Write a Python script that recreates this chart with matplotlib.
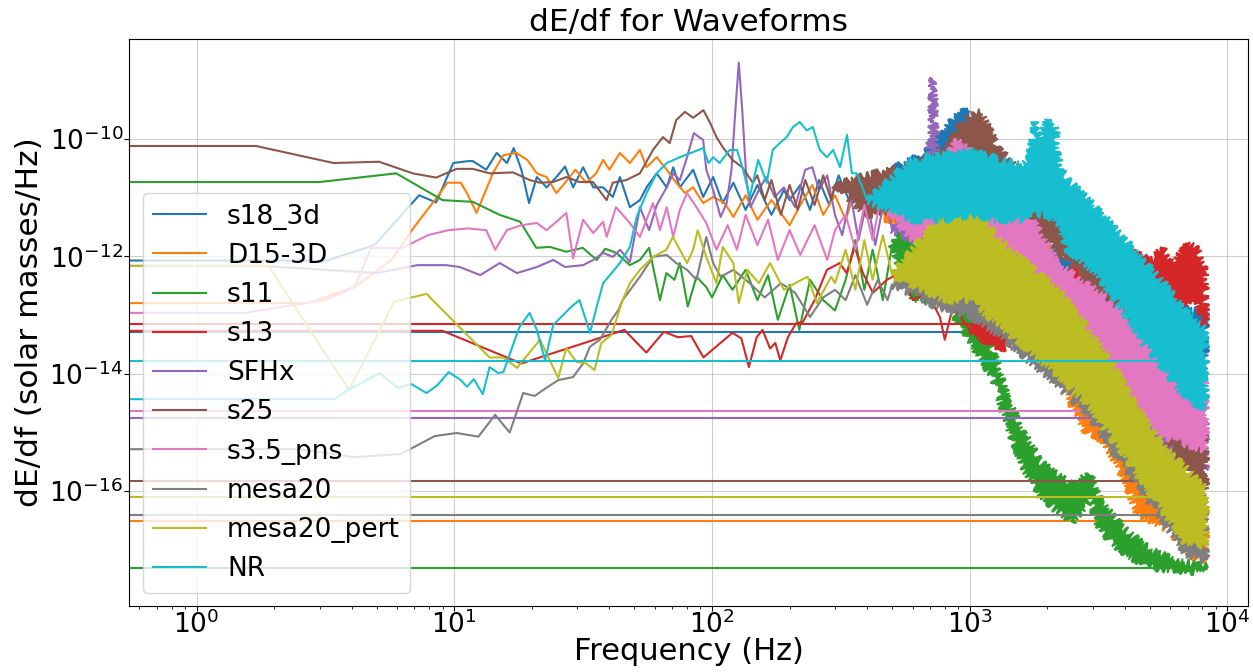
import matplotlib
matplotlib.use("Agg")
import matplotlib.pyplot as plt
from matplotlib.ticker import NullLocator

# sampling: last positive FFT bin, after it the spectrum wraps to negative frequencies
nyquist = 8192

# ---- s18_3d ----
s18_f = [0, 1.6, 3.2, 4.9, 7.3, 8.5, 9.9, 11.3, 11.8, 13.3, 14.6, 16.0, 17.0, 18.2, 19.5, 20.9, 22.8, 24.9, 26.9, 28.9,
         31.6, 34.6, 37.8, 41.2, 43.9, 48.0, 52.5, 55.7, 61.0, 66.7, 70.7, 75.0, 84.5, 92.4, 101, 110, 121, 135, 150, 170,
         190, 200, 220, 240, 260, 285, 310, 340, 370, 400]
s18_v = [8.5e-13, 8.5e-13, 8.5e-13, 1.56e-12, 1.1e-11, 8.3e-12, 3.9e-11, 4.2e-11, 4.2e-11, 3.0e-11,
         5.8e-11, 3.9e-11, 7.0e-11, 3.0e-11, 8.1e-12, 2.25e-11, 1.5e-11, 2.25e-11, 3.4e-11, 1.5e-11,
         3.3e-11, 1.5e-11, 1.5e-11, 1.03e-11, 2.25e-11, 6.9e-12, 9.1e-12, 1.5e-11, 2.6e-11, 1.5e-11,
         3.3e-11, 1.5e-11, 3.0e-11, 1.03e-11, 2.25e-11, 8.1e-12, 1.8e-11, 6.2e-12, 1.65e-11, 5.1e-12,
         1.35e-11, 9.1e-12, 1.65e-11, 6.2e-12, 2.0e-11, 7.5e-12, 2.4e-11, 9.1e-12, 2.0e-11, 1.1e-11]
s18_bf = [400, 500, 700, 850, 950, 1100, 1300, 1700, 2200, 2700, 3300, 4000, 5000, 6000, 7200, 8192]
s18_hi = [1.1e-11, 3.0e-11, 6.5e-11, 2.1e-10, 3.1e-10, 1.4e-10, 4.4e-11, 9.1e-12, 1.06e-12, 8.0e-13, 5.9e-13,
          3.3e-13, 1.8e-13, 1.5e-13, 1.2e-13, 1.2e-13]
s18_lo = [1.1e-11, 7.5e-12, 1.35e-11, 2.4e-11, 3.0e-11, 9.1e-12, 2.8e-12, 5.9e-13, 2.2e-13, 1.8e-13, 8.3e-14,
          4.6e-14, 2.5e-14, 2.1e-14, 1.7e-14, 1.7e-14]
s18_end = 5.2e-14

# ---- D15-3D ----
d15_f = [0, 2.7, 4.1, 5.7, 7.0, 8.4, 9.4, 10.6, 11.3, 12.2, 14.1, 15.5, 17.4, 19.2, 20.9, 22.8, 24.9, 26.9, 29.5, 32.5,
         35.5, 37.8, 40.0, 43.9, 48.0, 52.5, 55.7, 61.0, 66.7, 72.6, 78.5, 84.5, 92.4, 101, 112, 121, 135, 150, 170, 200,
         220, 245, 270, 300, 330, 360, 400]
d15_v = [1.6e-13, 1.6e-13, 3.0e-13, 8.7e-13, 3.2e-12, 9.1e-12, 1.8e-11, 1.8e-11, 1.1e-11, 5.5e-12,
         2.6e-11, 5.3e-11, 5.8e-11, 4.4e-11, 2.6e-11, 2.25e-11, 1.2e-11, 1.8e-11, 3.0e-11, 1.8e-11,
         2.6e-11, 4.4e-11, 3.0e-11, 5.8e-11, 3.9e-11, 6.5e-11, 3.3e-11, 4.9e-11, 3.0e-11, 1.8e-11,
         1.2e-11, 1.5e-11, 8.1e-12, 1.03e-11, 8.1e-12, 4.7e-12, 1.1e-11, 4.2e-12, 9.1e-12, 3.4e-12,
         7.5e-12, 1.65e-11, 5.1e-12, 1.1e-11, 4.2e-12, 1.35e-11, 6.2e-12]
d15_bf = [400, 600, 1000, 1150, 1300, 1700, 2100, 2500, 2800, 3300, 4000, 4500, 5000, 6000, 7000, 8192]
d15_hi = [6.2e-12, 1.35e-11, 2.4e-11, 9.6e-11, 2.4e-11, 7.5e-12, 8.7e-13, 5.6e-14, 7.8e-15, 5.3e-15, 1.1e-15,
          4.1e-16, 2.3e-16, 1.05e-16, 7.1e-17, 4.8e-17]
d15_lo = [6.2e-12, 2.8e-12, 3.4e-12, 9.1e-12, 3.4e-12, 7.1e-13, 5.6e-14, 2.9e-15, 1.1e-15, 7.4e-16, 1.55e-16,
          3.9e-17, 3.2e-17, 2.2e-17, 8.2e-18, 6.7e-18]
d15_end = 3.1e-17

# ---- s11 ----
s11_f = [0, 3.0, 5.95, 9.0, 11.8, 15.0, 18.0, 20.8, 23.5, 27.2, 31.5, 35.7, 38.5, 42.5, 48.0, 52.5, 57.0, 62.8, 66.5,
         71.5, 75.0, 80.5, 87.0, 95.0, 100, 110, 120, 135, 150, 165, 180, 200, 218, 240, 270, 300, 330, 360, 390, 420,
         460, 500]
s11_v = [1.85e-11, 1.85e-11, 2.6e-11, 9.1e-12, 8.5e-12, 5.1e-12, 3.9e-12, 1.4e-12, 1.45e-12, 1.2e-12,
         1.4e-12, 8.7e-13, 1.35e-12, 1.15e-12, 7.1e-13, 8.7e-13, 1.4e-12, 1.8e-13, 5.2e-13, 4.0e-13,
         7.7e-13, 1.4e-13, 4.5e-13, 3.0e-13, 2.0e-13, 4.8e-13, 2.7e-13, 5.9e-13, 1.8e-13, 4.8e-13,
         8.3e-14, 3.3e-13, 5.6e-14, 4.0e-13, 1.8e-13, 1.2e-13, 4.0e-13, 1.9e-12, 2.7e-13, 1.3e-12,
         1.8e-13, 1.56e-12]
s11_bf = [500, 600, 800, 1000, 1230, 1400, 1620, 1880, 2160, 2500, 2930, 3200, 3930, 4870, 6150, 8192]
s11_hi = [1.56e-12, 5.1e-12, 3.4e-12, 4.0e-13, 2.5e-14, 3.6e-15, 1.02e-15, 3.1e-16, 1.9e-16, 1.28e-16, 1.9e-16,
          7.1e-17, 2.4e-17, 1.08e-17, 6.7e-18, 5.3e-18]
s11_lo = [1.56e-12, 1.8e-13, 1.8e-13, 3.8e-14, 8.5e-15, 1.34e-15, 2.5e-16, 8.6e-17, 4.8e-17, 3.0e-17, 7.1e-17,
          2.2e-17, 9.2e-18, 5.3e-18, 4.5e-18, 4.2e-18]
s11_end = 4.9e-18

# ---- s13 ----
s13_f = [0, 9.0, 18.2, 45.7, 55.6, 65.0, 73.7, 83.0, 92.6, 120, 130, 139, 149, 157, 168, 176, 184, 197, 212, 225,
         250, 279, 313, 333, 358, 385, 421, 477, 536, 602, 683, 766, 800, 861, 1000]
s13_v = [5.4e-14, 5.4e-14, 1.5e-14, 5.6e-14, 2.3e-14, 5.2e-14, 4.2e-14, 4.4e-14, 1.9e-14, 5.0e-14,
         4.0e-14, 1.3e-14, 4.2e-14, 5.6e-14, 2.7e-14, 3.35e-14, 1.7e-14, 4.2e-14, 7.3e-14, 7.6e-14,
         1.8e-13, 5.9e-13, 7.7e-13, 5.2e-13, 1.45e-12, 5.2e-13, 2.4e-13, 4.0e-13, 5.2e-13, 1.8e-13,
         2.4e-13, 9.3e-14, 3.8e-14, 1.4e-13, 5.6e-14]
s13_bf = [1000, 1300, 1700, 2200, 3000, 4000, 4500, 5000, 5600, 6200, 7000, 7600, 8192]
s13_hi = [5.6e-14, 1.5e-13, 2.7e-13, 4.8e-13, 8.7e-13, 1.3e-12, 1.06e-12, 8.7e-13, 1.3e-12, 7.1e-13, 1.7e-12,
          1.3e-12, 7.1e-13]
s13_lo = [5.6e-14, 2.5e-14, 5.6e-14, 8.3e-14, 1.2e-13, 1.8e-13, 1.2e-13, 1.2e-13, 1.8e-13, 1.2e-13, 1.8e-13,
          1.8e-13, 6.8e-14]
s13_end = 7.0e-14

# ---- SFHx ----
sfhx_f = [0, 1.8, 5.0, 7.2, 9.3, 10.5, 12.6, 15.0, 17.5, 20.9, 24.2, 26.9, 31.6, 34.6, 37.8, 41.2, 44.0, 48.0, 52.5,
          57.0, 61.0, 66.7, 70.7, 75.0, 80.0, 85.0, 92.4, 95.0, 101, 108, 114, 119, 123, 127, 131, 136, 141, 152, 162,
          175, 190, 210, 230, 245, 260, 280, 300, 320, 345, 370, 400, 430, 470, 500]
sfhx_v = [6.9e-13, 6.9e-13, 5.2e-13, 7.1e-13, 7.1e-13, 6.6e-13, 4.8e-13, 7.7e-13, 5.2e-13, 6.6e-13,
          8.7e-13, 6.6e-13, 7.1e-13, 8.7e-13, 1.15e-12, 9.8e-13, 1.3e-12, 8.0e-13, 6.9e-12, 2.8e-12,
          7.5e-12, 1.5e-11, 2.6e-11, 2.0e-11, 4.9e-11, 1.26e-10, 9.6e-11, 3.0e-11, 1.35e-11, 4.7e-12,
          8.1e-12, 3.0e-11, 2.8e-10, 2.0e-9, 3.1e-10, 2.0e-11, 6.9e-12, 1.35e-11, 2.25e-11, 1.03e-11,
          1.5e-11, 6.9e-12, 3.0e-11, 3.3e-11, 1.35e-11, 2.4e-11, 5.1e-12, 2.3e-12, 1.1e-11, 1.9e-12,
          9.1e-12, 1.56e-12, 1.1e-11, 2.8e-12]
sfhx_bf = [500, 650, 700, 720, 740, 780, 900, 1100, 1400, 1800, 2300, 3000, 3800, 4800, 6000, 7200, 8192]
sfhx_hi = [2.8e-12, 1.35e-11, 6.5e-11, 1.1e-9, 6.5e-11, 1.35e-11, 2.8e-12, 1.56e-12, 4.0e-13, 1.5e-13, 5.6e-14,
           2.1e-14, 7.8e-15, 3.6e-15, 2.4e-15, 1.6e-15, 1.6e-15]
sfhx_lo = [2.8e-12, 1.56e-12, 1.9e-12, 1.9e-12, 1.9e-12, 1.3e-12, 3.3e-13, 1.8e-13, 5.6e-14, 1.7e-14, 6.4e-15,
           2.9e-15, 1.1e-15, 5.0e-16, 3.4e-16, 2.8e-16, 2.3e-16]
sfhx_end = 1.77e-15

# ---- s25 ----
s25_f = [0, 1.7, 3.4, 5.1, 6.9, 8.5, 10.2, 11.8, 13.7, 16.9, 19.6, 21.5, 24.2, 27.2, 30.6, 34.5, 39.0, 41.2, 46.5, 52.5,
         59.0, 64.5, 68.5, 72.6, 78.5, 84.5, 92.6, 98.5, 104, 110, 120, 131, 144, 150, 160, 170, 185, 200, 215, 230,
         250, 270, 290, 300]
s25_v = [7.6e-11, 7.6e-11, 3.9e-11, 4.1e-11, 2.6e-11, 2.2e-11, 3.1e-11, 3.1e-11, 2.6e-11, 2.7e-11,
         2.0e-11, 1.8e-11, 1.85e-11, 2.25e-11, 1.85e-11, 1.85e-11, 9.1e-12, 1.8e-11, 2.0e-11, 2.6e-11,
         6.5e-11, 1.08e-10, 8.5e-11, 2.1e-10, 2.9e-10, 2.3e-10, 3.1e-10, 1.85e-10, 1.08e-10, 7.3e-11,
         4.4e-11, 3.3e-11, 1.8e-11, 2.4e-11, 9.1e-12, 2.0e-11, 5.1e-12, 1.65e-11, 6.2e-12, 2.0e-11,
         7.5e-12, 2.4e-11, 9.1e-12, 1.65e-11]
s25_bf = [300, 400, 600, 800, 950, 1100, 1300, 1700, 2100, 2500, 3000, 3500, 4200, 5000, 6000, 7000, 8192]
s25_hi = [1.65e-11, 2.4e-11, 3.6e-11, 6.5e-11, 2.1e-10, 2.9e-10, 6.5e-11, 2.0e-11, 1.35e-11, 5.1e-12, 1.9e-12,
          7.1e-13, 1.8e-13, 3.1e-14, 5.3e-15, 2.0e-15, 9.8e-16]
s25_lo = [1.65e-11, 5.1e-12, 7.5e-12, 1.1e-11, 2.4e-11, 3.6e-11, 7.5e-12, 2.3e-12, 1.56e-12, 7.1e-13, 1.8e-13,
          6.8e-14, 1.16e-14, 2.4e-15, 6.1e-16, 2.3e-16, 1.05e-16]
s25_end = 1.5e-16

# ---- s3.5_pns ----
pns_f = [0, 1.53, 3.14, 4.1, 4.75, 6.3, 7.9, 9.5, 11.3, 13.3, 14.4, 16.0, 18.2, 20.9, 22.8, 24.9, 27.2, 28.9, 31.6,
         34.6, 37.8, 39.0, 42.4, 48.0, 52.5, 55.7, 59.0, 62.8, 66.7, 70.7, 75.0, 80.0, 87.0, 95.0, 104, 115, 125, 135,
         150, 165, 180, 200, 220, 250, 280, 300, 330, 360, 390, 420, 450]
pns_v = [1.09e-13, 1.09e-13, 1.8e-13, 3.0e-13, 1.4e-12, 1.4e-12, 2.3e-12, 2.8e-12, 3.0e-12, 2.8e-12,
         1.3e-12, 2.8e-12, 3.4e-12, 3.7e-12, 2.8e-12, 3.9e-12, 5.5e-12, 9.3e-13, 4.2e-12, 2.5e-12,
         3.9e-12, 2.15e-12, 6.9e-12, 3.7e-12, 2.15e-12, 4.2e-12, 8.1e-12, 2.8e-12, 6.9e-12, 2.15e-12,
         6.2e-12, 1.2e-11, 6.9e-12, 3.7e-12, 1.3e-12, 3.4e-12, 1.3e-12, 5.1e-12, 1.56e-12, 4.2e-12,
         8.7e-13, 2.8e-12, 1.06e-12, 3.4e-12, 8.7e-13, 2.8e-12, 5.1e-12, 1.3e-12, 7.5e-12, 1.9e-12,
         9.1e-12]
pns_bf = [450, 600, 800, 900, 1000, 1300, 1700, 2200, 2900, 3600, 4500, 5600, 7000, 8192]
pns_hi = [9.1e-12, 2.0e-11, 4.4e-11, 9.6e-11, 6.5e-11, 2.0e-11, 5.1e-12, 7.1e-13, 3.3e-13, 1.5e-13, 5.6e-14,
          2.1e-14, 1.16e-14, 9.5e-15]
pns_lo = [9.1e-12, 1.9e-12, 3.4e-12, 6.2e-12, 5.1e-12, 1.56e-12, 2.7e-13, 8.3e-14, 3.1e-14, 9.5e-15, 2.0e-15,
          9.0e-16, 6.1e-16, 5.0e-16]
pns_end = 2.3e-15

# ---- mesa20 ----
m20_f = [0, 2.5, 4.1, 6.2, 7.0, 8.4, 10.2, 12.4, 14.4, 16.4, 18.5, 20.5, 22.8, 25.3, 28.9, 31.6, 33.6, 36.7, 40.7,
         43.2, 45.0, 52.5, 59.0, 66.7, 72.6, 80.0, 87.0, 95.0, 101, 108, 121, 140, 160, 185, 210, 240, 270, 300,
         330, 360, 400, 440, 480, 500]
m20_v = [5.2e-16, 5.2e-16, 3.8e-16, 4.3e-16, 5.7e-16, 8.7e-16, 9.8e-16, 8.5e-16, 2.0e-15, 1.0e-15,
         4.7e-15, 4.2e-15, 5.8e-15, 7.8e-15, 8.8e-15, 1.5e-14, 2.9e-14, 3.8e-14, 8.3e-14, 1.2e-13,
         1.8e-13, 4.5e-13, 9.8e-13, 1.06e-12, 7.7e-13, 5.9e-13, 4.0e-13, 2.15e-12, 7.7e-13, 4.5e-13,
         5.9e-13, 3.5e-13, 2.0e-13, 3.5e-13, 2.4e-13, 9.3e-14, 2.0e-13, 2.7e-13, 1.8e-13, 4.8e-13,
         1.5e-13, 4.0e-13, 1.8e-13, 3.3e-13]
m20_bf = [500, 800, 1000, 1300, 1700, 2200, 2900, 3600, 4500, 5600, 7000, 8192]
m20_hi = [3.3e-13, 7.1e-13, 5.9e-13, 2.7e-13, 8.3e-14, 3.1e-14, 9.5e-15, 3.6e-15, 1.1e-15, 2.8e-16, 1.05e-16,
          7.1e-17]
m20_lo = [3.3e-13, 1.2e-13, 1.0e-13, 4.6e-14, 1.7e-14, 6.4e-15, 2.0e-15, 5.0e-16, 1.28e-16, 3.2e-17, 8.2e-18,
          6.7e-18]
m20_end = 3.9e-17

# ---- mesa20_pert ----
pert_f = [0, 1.9, 3.9, 5.85, 7.8, 13.7, 15.5, 17.5, 21.5, 25.3, 27.2, 29.8, 32.5, 35.0, 37.2, 40.7, 45.0, 48.0, 52.5,
          59.0, 66.5, 70.5, 75.0, 80.0, 84.5, 88.0, 95.0, 104, 110, 121, 127, 137, 152, 168, 190, 210, 235, 255, 290,
          300, 330, 360, 390, 420, 460, 500]
pert_v = [6.9e-13, 6.9e-13, 5.3e-15, 1.7e-13, 2.3e-13, 1.9e-14, 1.9e-14, 1.26e-14, 3.8e-14, 8.5e-15,
          2.75e-14, 1.6e-14, 1.5e-14, 1.16e-14, 3.35e-14, 4.6e-14, 1.8e-13, 3.5e-13, 5.9e-13, 9.8e-13,
          1.3e-12, 2.15e-12, 1.3e-12, 7.7e-13, 1.3e-12, 2.8e-12, 9.8e-13, 3.5e-13, 1.45e-12, 7.7e-13,
          1.6e-13, 5.9e-13, 3.5e-13, 7.7e-13, 2.7e-13, 3.5e-13, 4.5e-13, 1.6e-13, 4.5e-13, 3.5e-13,
          1.3e-12, 2.7e-13, 1.9e-12, 4.0e-13, 2.3e-12, 4.8e-13]
pert_bf = [500, 800, 1000, 1300, 1700, 2200, 2900, 3600, 4500, 5600, 7000, 8192]
pert_hi = [4.8e-13, 6.2e-12, 7.5e-12, 1.9e-12, 7.1e-13, 2.7e-13, 5.6e-14, 1.4e-14, 2.4e-15, 6.1e-16, 2.3e-16,
           1.05e-16]
pert_lo = [4.8e-13, 1.8e-13, 1.8e-13, 6.8e-14, 2.5e-14, 9.5e-15, 2.9e-15, 7.4e-16, 1.9e-16, 4.8e-17, 1.2e-17,
           1.2e-17]
pert_end = 8.0e-17

# ---- NR ----
nr_f = [0, 3.43, 3.86, 4.35, 5.13, 6.04, 6.8, 7.8, 8.6, 9.5, 10.6, 11.2, 11.9, 12.9, 13.7, 14.8, 15.5, 17.9, 19.6,
        20.9, 22.5, 24.2, 28.5, 30.6, 33.6, 35.7, 37.8, 43.9, 48.0, 51.0, 55.7, 61.0, 66.7, 75.0, 84.5, 92.4, 97.0,
        101, 107, 117, 125, 132, 140, 151, 163, 172, 183, 195, 206, 219, 233, 246, 262, 279, 295, 314, 334, 349,
        365, 400]
nr_v = [3.7e-15, 3.7e-15, 5.3e-15, 6.9e-15, 1.03e-14, 5.7e-15, 6.7e-15, 4.7e-15, 6.4e-15, 1.07e-14,
        7.8e-15, 6.0e-15, 8.1e-15, 4.5e-15, 1.3e-14, 1.03e-14, 1.07e-14, 6.3e-14, 1.09e-13, 5.6e-14,
        1.7e-14, 6.8e-14, 1.4e-13, 1.8e-13, 5.0e-14, 1.4e-13, 3.5e-13, 7.7e-13, 1.45e-12, 4.7e-12,
        1.2e-11, 2.6e-11, 3.9e-11, 4.9e-11, 6.0e-11, 7.0e-11, 3.9e-11, 4.9e-11, 3.9e-11, 6.5e-11,
        6.5e-11, 3.0e-11, 1.03e-11, 4.4e-11, 1.8e-11, 6.5e-11, 8.5e-11, 1.08e-10, 1.6e-10, 1.95e-10,
        1.4e-10, 1.6e-10, 6.5e-11, 4.9e-11, 6.5e-11, 3.3e-11, 1.17e-10, 2.6e-11, 2.6e-11, 9.1e-12]
nr_bf = [400, 600, 800, 1000, 1300, 1600, 1700, 1790, 1900, 2000, 2140, 2250, 2400, 3000, 3700, 4500, 5500, 6800,
         8192]
nr_hi = [9.1e-12, 4.4e-11, 5.3e-11, 6.5e-11, 4.4e-11, 3.6e-11, 4.4e-11, 1.9e-10, 9.6e-11, 2.1e-10, 1.6e-10,
         3.0e-11, 2.0e-11, 7.5e-12, 2.8e-12, 1.06e-12, 4.0e-13, 1.2e-13, 5.6e-14]
nr_lo = [9.1e-12, 4.2e-12, 4.2e-12, 5.1e-12, 4.2e-12, 4.2e-12, 4.2e-12, 5.1e-12, 5.1e-12, 5.1e-12, 4.2e-12,
         3.0e-12, 1.3e-12, 5.9e-13, 1.8e-13, 4.6e-14, 1.4e-14, 4.4e-15, 2.4e-15]
nr_end = 1.65e-14

labels = ['s18_3d', 'D15-3D', 's11', 's13', 'SFHx', 's25', 's3.5_pns', 'mesa20', 'mesa20_pert', 'NR']
series = [
    (s18_f, s18_v, s18_bf, s18_hi, s18_lo, s18_end),
    (d15_f, d15_v, d15_bf, d15_hi, d15_lo, d15_end),
    (s11_f, s11_v, s11_bf, s11_hi, s11_lo, s11_end),
    (s13_f, s13_v, s13_bf, s13_hi, s13_lo, s13_end),
    (sfhx_f, sfhx_v, sfhx_bf, sfhx_hi, sfhx_lo, sfhx_end),
    (s25_f, s25_v, s25_bf, s25_hi, s25_lo, s25_end),
    (pns_f, pns_v, pns_bf, pns_hi, pns_lo, pns_end),
    (m20_f, m20_v, m20_bf, m20_hi, m20_lo, m20_end),
    (pert_f, pert_v, pert_bf, pert_hi, pert_lo, pert_end),
    (nr_f, nr_v, nr_bf, nr_hi, nr_lo, nr_end),
]


def draw():
    fig = plt.figure(figsize=(12.53, 6.72), dpi=100)
    ax = fig.add_axes([0.1032, 0.0982, 0.8928, 0.8438])
    ax.set_xscale('log')
    ax.set_yscale('log')
    handles = []
    for i, (f, v, bf, hi, lo, end) in enumerate(series):
        c = 'C%d' % i
        line, = ax.plot(f, v, color=c, lw=1.5, label=labels[i], zorder=2)
        # dense high-frequency part drawn as its envelope polygon, with a ragged edge
        band, = ax.fill(bf + bf[::-1], hi + lo[::-1], color=c, lw=1.2, zorder=2)
        band.set_sketch_params(scale=4, length=6, randomness=6)
        # wrap from last positive bin to the negative half (clipped on log axis)
        ax.plot([nyquist, -nyquist], [end, end], color=c, lw=1.5, zorder=2)
        handles.append(line)
    ax.set_xlim(0.548, 12015)
    ax.set_ylim(1.107e-18, 5.06e-9)
    ax.set_yticks([1e-16, 1e-14, 1e-12, 1e-10])
    ax.yaxis.set_minor_locator(NullLocator())
    ax.grid(True, which='major', color='#b0b0b0', alpha=0.6)
    ax.tick_params(axis='both', which='major', labelsize=19, pad=1)
    ax.tick_params(axis='x', which='major', pad=0)
    ax.set_title('dE/df for Waveforms', fontsize=22.5)
    ax.set_xlabel('Frequency (Hz)', fontsize=22)
    ax.set_ylabel('dE/df (solar masses/Hz)', fontsize=22.5)
    ax.xaxis.set_label_coords(0.5, -0.055)
    ax.yaxis.set_label_coords(-0.076, 0.5)
    ax.legend(handles=handles, loc='lower left', fontsize=19)
    fig.savefig('out.png', dpi=100)


if __name__ == "__main__":
    draw()
